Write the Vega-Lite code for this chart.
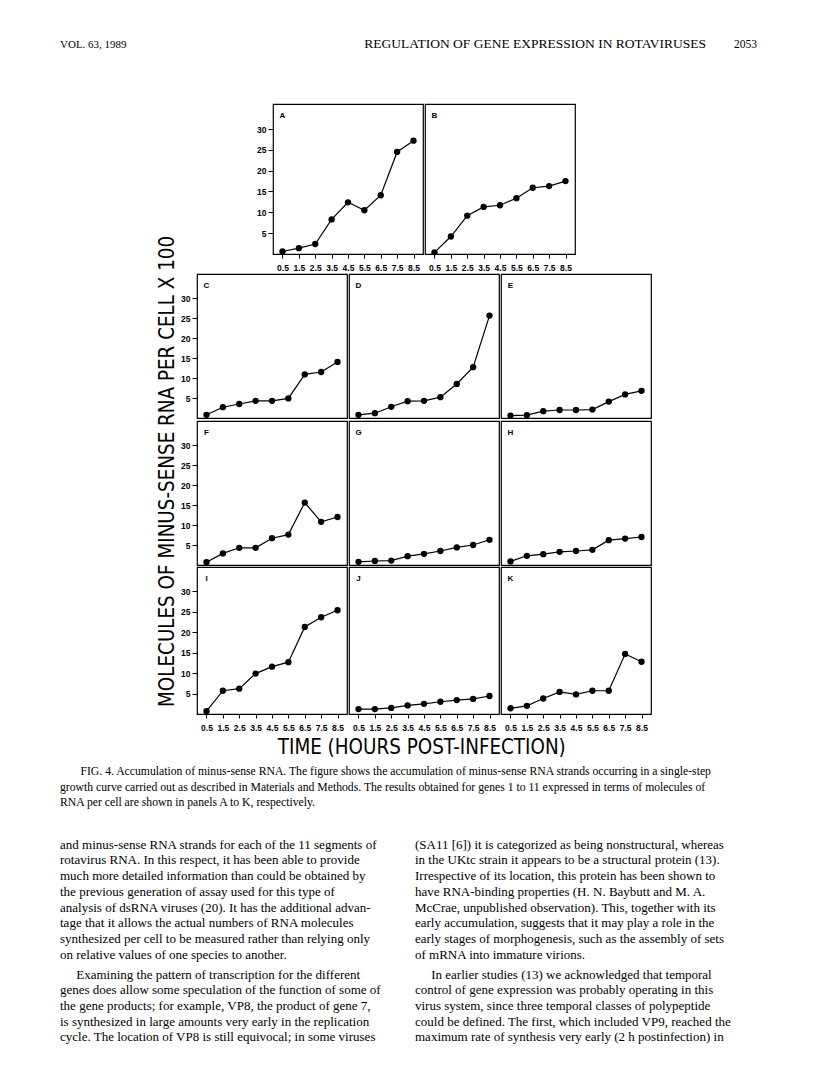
{
  "$schema": "https://vega.github.io/schema/vega-lite/v6.json",
  "background": "white",
  "padding": {"left": 60, "top": 36, "right": 0, "bottom": 0},
  "config": {
    "view": {"stroke": "black", "strokeWidth": 1.2},
    "axis": {"domain": false, "grid": false, "tickColor": "black", "tickWidth": 1, "labelColor": "black", "labelFont": "Liberation Sans", "labelFontSize": 8.5, "labelFontWeight": "bold", "labelOverlap": false, "labelFlush": false},
    "axisX": {"tickSize": 4, "labelPadding": 5},
    "axisY": {"tickSize": 5, "labelPadding": 2},
    "title": {"color": "black", "fontWeight": "normal", "offset": 0, "anchor": "start", "font": "Liberation Serif", "subtitleColor": "black", "subtitleFont": "Liberation Serif"},
    "concat": {"spacing": 0}
  },
  "datasets": {
    "d": [
      {"p": "A", "t": 0.5, "v": 0.6}, {"p": "A", "t": 1.5, "v": 1.4}, {"p": "A", "t": 2.5, "v": 2.4}, {"p": "A", "t": 3.5, "v": 8.3}, {"p": "A", "t": 4.5, "v": 12.4}, {"p": "A", "t": 5.5, "v": 10.5}, {"p": "A", "t": 6.5, "v": 14.1}, {"p": "A", "t": 7.5, "v": 24.5}, {"p": "A", "t": 8.5, "v": 27.2},
      {"p": "B", "t": 0.5, "v": 0.4}, {"p": "B", "t": 1.5, "v": 4.2}, {"p": "B", "t": 2.5, "v": 9.2}, {"p": "B", "t": 3.5, "v": 11.3}, {"p": "B", "t": 4.5, "v": 11.7}, {"p": "B", "t": 5.5, "v": 13.4}, {"p": "B", "t": 6.5, "v": 15.9}, {"p": "B", "t": 7.5, "v": 16.3}, {"p": "B", "t": 8.5, "v": 17.5},
      {"p": "C", "t": 0.5, "v": 0.8}, {"p": "C", "t": 1.5, "v": 2.7}, {"p": "C", "t": 2.5, "v": 3.5}, {"p": "C", "t": 3.5, "v": 4.3}, {"p": "C", "t": 4.5, "v": 4.3}, {"p": "C", "t": 5.5, "v": 4.9}, {"p": "C", "t": 6.5, "v": 10.9}, {"p": "C", "t": 7.5, "v": 11.5}, {"p": "C", "t": 8.5, "v": 14.0},
      {"p": "D", "t": 0.5, "v": 0.8}, {"p": "D", "t": 1.5, "v": 1.2}, {"p": "D", "t": 2.5, "v": 2.8}, {"p": "D", "t": 3.5, "v": 4.2}, {"p": "D", "t": 4.5, "v": 4.3}, {"p": "D", "t": 5.5, "v": 5.2}, {"p": "D", "t": 6.5, "v": 8.5}, {"p": "D", "t": 7.5, "v": 12.7}, {"p": "D", "t": 8.5, "v": 25.6},
      {"p": "E", "t": 0.5, "v": 0.6}, {"p": "E", "t": 1.5, "v": 0.7}, {"p": "E", "t": 2.5, "v": 1.7}, {"p": "E", "t": 3.5, "v": 2.0}, {"p": "E", "t": 4.5, "v": 2.0}, {"p": "E", "t": 5.5, "v": 2.1}, {"p": "E", "t": 6.5, "v": 4.1}, {"p": "E", "t": 7.5, "v": 5.9}, {"p": "E", "t": 8.5, "v": 6.8},
      {"p": "F", "t": 0.5, "v": 0.7}, {"p": "F", "t": 1.5, "v": 2.9}, {"p": "F", "t": 2.5, "v": 4.3}, {"p": "F", "t": 3.5, "v": 4.3}, {"p": "F", "t": 4.5, "v": 6.7}, {"p": "F", "t": 5.5, "v": 7.6}, {"p": "F", "t": 6.5, "v": 15.6}, {"p": "F", "t": 7.5, "v": 10.8}, {"p": "F", "t": 8.5, "v": 12.0},
      {"p": "G", "t": 0.5, "v": 0.8}, {"p": "G", "t": 1.5, "v": 1.0}, {"p": "G", "t": 2.5, "v": 1.1}, {"p": "G", "t": 3.5, "v": 2.2}, {"p": "G", "t": 4.5, "v": 2.8}, {"p": "G", "t": 5.5, "v": 3.5}, {"p": "G", "t": 6.5, "v": 4.4}, {"p": "G", "t": 7.5, "v": 5.0}, {"p": "G", "t": 8.5, "v": 6.3},
      {"p": "H", "t": 0.5, "v": 0.9}, {"p": "H", "t": 1.5, "v": 2.3}, {"p": "H", "t": 2.5, "v": 2.7}, {"p": "H", "t": 3.5, "v": 3.3}, {"p": "H", "t": 4.5, "v": 3.5}, {"p": "H", "t": 5.5, "v": 3.8}, {"p": "H", "t": 6.5, "v": 6.2}, {"p": "H", "t": 7.5, "v": 6.6}, {"p": "H", "t": 8.5, "v": 7.0},
      {"p": "I", "t": 0.5, "v": 0.7}, {"p": "I", "t": 1.5, "v": 5.7}, {"p": "I", "t": 2.5, "v": 6.2}, {"p": "I", "t": 3.5, "v": 9.9}, {"p": "I", "t": 4.5, "v": 11.6}, {"p": "I", "t": 5.5, "v": 12.7}, {"p": "I", "t": 6.5, "v": 21.3}, {"p": "I", "t": 7.5, "v": 23.7}, {"p": "I", "t": 8.5, "v": 25.4},
      {"p": "J", "t": 0.5, "v": 1.2}, {"p": "J", "t": 1.5, "v": 1.2}, {"p": "J", "t": 2.5, "v": 1.5}, {"p": "J", "t": 3.5, "v": 2.1}, {"p": "J", "t": 4.5, "v": 2.5}, {"p": "J", "t": 5.5, "v": 3.0}, {"p": "J", "t": 6.5, "v": 3.4}, {"p": "J", "t": 7.5, "v": 3.7}, {"p": "J", "t": 8.5, "v": 4.4},
      {"p": "K", "t": 0.5, "v": 1.4}, {"p": "K", "t": 1.5, "v": 2.0}, {"p": "K", "t": 2.5, "v": 3.8}, {"p": "K", "t": 3.5, "v": 5.4}, {"p": "K", "t": 4.5, "v": 4.8}, {"p": "K", "t": 5.5, "v": 5.7}, {"p": "K", "t": 6.5, "v": 5.7}, {"p": "K", "t": 7.5, "v": 14.7}, {"p": "K", "t": 8.5, "v": 12.8}
    ]
  },
  "vconcat": [
    {
      "hconcat": [
        {"width": 290, "height": 44, "data": {"values": [{}]}, "mark": "text", "encoding": {"text": {"value": ""}}, "view": {"stroke": null},
         "title": {"text": "VOL. 63, 1989", "fontSize": 11, "anchor": "start"}},
        {"width": 356, "height": 44, "data": {"values": [{}]}, "mark": "text", "encoding": {"text": {"value": ""}}, "view": {"stroke": null},
         "title": {"text": "REGULATION OF GENE EXPRESSION IN ROTAVIRUSES", "fontSize": 13.5, "anchor": "end"}},
        {"width": 51, "height": 44, "data": {"values": [{}]}, "mark": "text", "encoding": {"text": {"value": ""}}, "view": {"stroke": null},
         "title": {"text": "2053", "fontSize": 11.5, "anchor": "end"}}
      ]
    },
    {
      "hconcat": [
        {"width": 97, "height": 1, "data": {"values": [{}]}, "mark": "text", "encoding": {"text": {"value": ""}}, "view": {"stroke": null}},
        {"width": 1, "height": 603, "data": {"values": [{}]}, "mark": "text", "encoding": {"text": {"value": ""}}, "view": {"stroke": null},
         "title": {"text": "MOLECULES OF MINUS-SENSE RNA PER CELL X 100", "orient": "left", "anchor": "start", "font": "'Liberation Sans Narrow', 'DejaVu Sans Condensed', 'Liberation Sans'", "fontSize": 20.4, "offset": 0}},
        {
          "vconcat": [
            {
              "hconcat": [
                {"width": 58, "height": 1, "data": {"values": [{}]}, "mark": "text", "encoding": {"text": {"value": ""}}, "view": {"stroke": null}},
                {"width": 150, "height": 150, "data": {"name": "d"}, "transform": [{"filter": "datum.p === 'A'"}],
                 "encoding": {"x": {"field": "t", "type": "quantitative", "title": null, "scale": {"domain": [-0.08, 9.08], "nice": false, "zero": false}, "axis": {"values": [0.5, 1.5, 2.5, 3.5, 4.5, 5.5, 6.5, 7.5, 8.5], "format": ".1f", "minExtent": 18}},
                              "y": {"field": "v", "type": "quantitative", "title": null, "scale": {"domain": [0, 36], "nice": false, "zero": false}, "axis": {"values": [5, 10, 15, 20, 25, 30]}}},
                 "layer": [
                   {"mark": {"type": "line", "color": "black", "strokeWidth": 1.2}},
                   {"mark": {"type": "point", "filled": true, "color": "black", "size": 40, "opacity": 1}},
                   {"transform": [{"filter": "datum.t === 0.5"}], "mark": {"type": "text", "font": "Liberation Sans", "fontSize": 8, "fontWeight": "bold", "color": "black"}, "encoding": {"x": {"datum": 0.5}, "y": {"datum": 33.2}, "text": {"field": "p"}}}
                 ]},
                {"width": 150, "height": 150, "data": {"name": "d"}, "transform": [{"filter": "datum.p === 'B'"}],
                 "encoding": {"x": {"field": "t", "type": "quantitative", "title": null, "scale": {"domain": [-0.08, 9.08], "nice": false, "zero": false}, "axis": {"values": [0.5, 1.5, 2.5, 3.5, 4.5, 5.5, 6.5, 7.5, 8.5], "format": ".1f", "minExtent": 18}},
                              "y": {"field": "v", "type": "quantitative", "title": null, "scale": {"domain": [0, 36], "nice": false, "zero": false}, "axis": null}},
                 "layer": [
                   {"mark": {"type": "line", "color": "black", "strokeWidth": 1.2}},
                   {"mark": {"type": "point", "filled": true, "color": "black", "size": 40, "opacity": 1}},
                   {"transform": [{"filter": "datum.t === 0.5"}], "mark": {"type": "text", "font": "Liberation Sans", "fontSize": 8, "fontWeight": "bold", "color": "black"}, "encoding": {"x": {"datum": 0.5}, "y": {"datum": 33.2}, "text": {"field": "p"}}}
                 ]}
              ]
            },
            {
              "hconcat": [
                {"width": 150, "height": 144, "data": {"name": "d"}, "transform": [{"filter": "datum.p === 'C'"}],
                 "encoding": {"x": {"field": "t", "type": "quantitative", "title": null, "scale": {"domain": [-0.08, 9.08], "nice": false, "zero": false}, "axis": null},
                              "y": {"field": "v", "type": "quantitative", "title": null, "scale": {"domain": [0, 36], "nice": false, "zero": false}, "axis": {"values": [5, 10, 15, 20, 25, 30]}}},
                 "layer": [
                   {"mark": {"type": "line", "color": "black", "strokeWidth": 1.2}},
                   {"mark": {"type": "point", "filled": true, "color": "black", "size": 40, "opacity": 1}},
                   {"transform": [{"filter": "datum.t === 0.5"}], "mark": {"type": "text", "font": "Liberation Sans", "fontSize": 8, "fontWeight": "bold", "color": "black"}, "encoding": {"x": {"datum": 0.5}, "y": {"datum": 33}, "text": {"field": "p"}}}
                 ]},
                {"width": 150, "height": 144, "data": {"name": "d"}, "transform": [{"filter": "datum.p === 'D'"}],
                 "encoding": {"x": {"field": "t", "type": "quantitative", "title": null, "scale": {"domain": [-0.08, 9.08], "nice": false, "zero": false}, "axis": null},
                              "y": {"field": "v", "type": "quantitative", "title": null, "scale": {"domain": [0, 36], "nice": false, "zero": false}, "axis": null}},
                 "layer": [
                   {"mark": {"type": "line", "color": "black", "strokeWidth": 1.2}},
                   {"mark": {"type": "point", "filled": true, "color": "black", "size": 40, "opacity": 1}},
                   {"transform": [{"filter": "datum.t === 0.5"}], "mark": {"type": "text", "font": "Liberation Sans", "fontSize": 8, "fontWeight": "bold", "color": "black"}, "encoding": {"x": {"datum": 0.5}, "y": {"datum": 33}, "text": {"field": "p"}}}
                 ]},
                {"width": 150, "height": 144, "data": {"name": "d"}, "transform": [{"filter": "datum.p === 'E'"}],
                 "encoding": {"x": {"field": "t", "type": "quantitative", "title": null, "scale": {"domain": [-0.08, 9.08], "nice": false, "zero": false}, "axis": null},
                              "y": {"field": "v", "type": "quantitative", "title": null, "scale": {"domain": [0, 36], "nice": false, "zero": false}, "axis": null}},
                 "layer": [
                   {"mark": {"type": "line", "color": "black", "strokeWidth": 1.2}},
                   {"mark": {"type": "point", "filled": true, "color": "black", "size": 40, "opacity": 1}},
                   {"transform": [{"filter": "datum.t === 0.5"}], "mark": {"type": "text", "font": "Liberation Sans", "fontSize": 8, "fontWeight": "bold", "color": "black"}, "encoding": {"x": {"datum": 0.5}, "y": {"datum": 33}, "text": {"field": "p"}}}
                 ]}
              ]
            },
            {
              "hconcat": [
                {"width": 150, "height": 144, "data": {"name": "d"}, "transform": [{"filter": "datum.p === 'F'"}],
                 "encoding": {"x": {"field": "t", "type": "quantitative", "title": null, "scale": {"domain": [-0.08, 9.08], "nice": false, "zero": false}, "axis": null},
                              "y": {"field": "v", "type": "quantitative", "title": null, "scale": {"domain": [0, 36], "nice": false, "zero": false}, "axis": {"values": [5, 10, 15, 20, 25, 30]}}},
                 "layer": [
                   {"mark": {"type": "line", "color": "black", "strokeWidth": 1.2}},
                   {"mark": {"type": "point", "filled": true, "color": "black", "size": 40, "opacity": 1}},
                   {"transform": [{"filter": "datum.t === 0.5"}], "mark": {"type": "text", "font": "Liberation Sans", "fontSize": 8, "fontWeight": "bold", "color": "black"}, "encoding": {"x": {"datum": 0.5}, "y": {"datum": 33}, "text": {"field": "p"}}}
                 ]},
                {"width": 150, "height": 144, "data": {"name": "d"}, "transform": [{"filter": "datum.p === 'G'"}],
                 "encoding": {"x": {"field": "t", "type": "quantitative", "title": null, "scale": {"domain": [-0.08, 9.08], "nice": false, "zero": false}, "axis": null},
                              "y": {"field": "v", "type": "quantitative", "title": null, "scale": {"domain": [0, 36], "nice": false, "zero": false}, "axis": null}},
                 "layer": [
                   {"mark": {"type": "line", "color": "black", "strokeWidth": 1.2}},
                   {"mark": {"type": "point", "filled": true, "color": "black", "size": 40, "opacity": 1}},
                   {"transform": [{"filter": "datum.t === 0.5"}], "mark": {"type": "text", "font": "Liberation Sans", "fontSize": 8, "fontWeight": "bold", "color": "black"}, "encoding": {"x": {"datum": 0.5}, "y": {"datum": 33}, "text": {"field": "p"}}}
                 ]},
                {"width": 150, "height": 144, "data": {"name": "d"}, "transform": [{"filter": "datum.p === 'H'"}],
                 "encoding": {"x": {"field": "t", "type": "quantitative", "title": null, "scale": {"domain": [-0.08, 9.08], "nice": false, "zero": false}, "axis": null},
                              "y": {"field": "v", "type": "quantitative", "title": null, "scale": {"domain": [0, 36], "nice": false, "zero": false}, "axis": null}},
                 "layer": [
                   {"mark": {"type": "line", "color": "black", "strokeWidth": 1.2}},
                   {"mark": {"type": "point", "filled": true, "color": "black", "size": 40, "opacity": 1}},
                   {"transform": [{"filter": "datum.t === 0.5"}], "mark": {"type": "text", "font": "Liberation Sans", "fontSize": 8, "fontWeight": "bold", "color": "black"}, "encoding": {"x": {"datum": 0.5}, "y": {"datum": 33}, "text": {"field": "p"}}}
                 ]}
              ]
            },
            {
              "title": {"text": "TIME (HOURS POST-INFECTION)", "orient": "bottom", "anchor": "middle", "font": "'Liberation Sans Narrow', 'DejaVu Sans Condensed', 'Liberation Sans'", "fontSize": 20.4, "offset": 6, "dx": 6},
              "hconcat": [
                {"width": 150, "height": 147, "data": {"name": "d"}, "transform": [{"filter": "datum.p === 'I'"}],
                 "encoding": {"x": {"field": "t", "type": "quantitative", "title": null, "scale": {"domain": [-0.08, 9.08], "nice": false, "zero": false}, "axis": {"values": [0.5, 1.5, 2.5, 3.5, 4.5, 5.5, 6.5, 7.5, 8.5], "format": ".1f"}},
                              "y": {"field": "v", "type": "quantitative", "title": null, "scale": {"domain": [0, 36], "nice": false, "zero": false}, "axis": {"values": [5, 10, 15, 20, 25, 30]}}},
                 "layer": [
                   {"mark": {"type": "line", "color": "black", "strokeWidth": 1.2}},
                   {"mark": {"type": "point", "filled": true, "color": "black", "size": 40, "opacity": 1}},
                   {"transform": [{"filter": "datum.t === 0.5"}], "mark": {"type": "text", "font": "Liberation Sans", "fontSize": 8, "fontWeight": "bold", "color": "black"}, "encoding": {"x": {"datum": 0.5}, "y": {"datum": 33}, "text": {"field": "p"}}}
                 ]},
                {"width": 150, "height": 147, "data": {"name": "d"}, "transform": [{"filter": "datum.p === 'J'"}],
                 "encoding": {"x": {"field": "t", "type": "quantitative", "title": null, "scale": {"domain": [-0.08, 9.08], "nice": false, "zero": false}, "axis": {"values": [0.5, 1.5, 2.5, 3.5, 4.5, 5.5, 6.5, 7.5, 8.5], "format": ".1f"}},
                              "y": {"field": "v", "type": "quantitative", "title": null, "scale": {"domain": [0, 36], "nice": false, "zero": false}, "axis": null}},
                 "layer": [
                   {"mark": {"type": "line", "color": "black", "strokeWidth": 1.2}},
                   {"mark": {"type": "point", "filled": true, "color": "black", "size": 40, "opacity": 1}},
                   {"transform": [{"filter": "datum.t === 0.5"}], "mark": {"type": "text", "font": "Liberation Sans", "fontSize": 8, "fontWeight": "bold", "color": "black"}, "encoding": {"x": {"datum": 0.5}, "y": {"datum": 33}, "text": {"field": "p"}}}
                 ]},
                {"width": 150, "height": 147, "data": {"name": "d"}, "transform": [{"filter": "datum.p === 'K'"}],
                 "encoding": {"x": {"field": "t", "type": "quantitative", "title": null, "scale": {"domain": [-0.08, 9.08], "nice": false, "zero": false}, "axis": {"values": [0.5, 1.5, 2.5, 3.5, 4.5, 5.5, 6.5, 7.5, 8.5], "format": ".1f"}},
                              "y": {"field": "v", "type": "quantitative", "title": null, "scale": {"domain": [0, 36], "nice": false, "zero": false}, "axis": null}},
                 "layer": [
                   {"mark": {"type": "line", "color": "black", "strokeWidth": 1.2}},
                   {"mark": {"type": "point", "filled": true, "color": "black", "size": 40, "opacity": 1}},
                   {"transform": [{"filter": "datum.t === 0.5"}], "mark": {"type": "text", "font": "Liberation Sans", "fontSize": 8, "fontWeight": "bold", "color": "black"}, "encoding": {"x": {"datum": 0.5}, "y": {"datum": 33}, "text": {"field": "p"}}}
                 ]}
              ]
            }
          ]
        }
      ]
    },
    {"width": 10, "height": 7, "data": {"values": [{}]}, "mark": {"type": "text", "fontSize": 1}, "encoding": {"text": {"value": ""}}, "view": {"stroke": null}},
    {"width": 696, "height": 25, "data": {"values": [{}]}, "mark": "text", "encoding": {"text": {"value": ""}}, "view": {"stroke": null},
     "title": {"text": ["\u200b\u00a0\u00a0\u00a0\u00a0\u00a0\u00a0\u00a0FIG. 4. Accumulation of minus-sense RNA. The figure shows the accumulation of minus-sense RNA strands occurring in a single-step", "growth curve carried out as described in Materials and Methods. The results obtained for genes 1 to 11 expressed in terms of molecules of", "RNA per cell are shown in panels A to K, respectively."], "fontSize": 11.7, "lineHeight": 15.5, "anchor": "start"}},
    {
      "spacing": 20,
      "hconcat": [
        {"width": 335, "height": 1, "data": {"values": [{}]}, "mark": "text", "encoding": {"text": {"value": ""}}, "view": {"stroke": null},
         "title": {"text": ["and minus-sense RNA strands for each of the 11 segments of", "rotavirus RNA. In this respect, it has been able to provide", "much more detailed information than could be obtained by", "the previous generation of assay used for this type of", "analysis of dsRNA viruses (20). It has the additional advan-", "tage that it allows the actual numbers of RNA molecules", "synthesized per cell to be measured rather than relying only", "on relative values of one species to another."],
                   "subtitle": ["\u200b\u00a0\u00a0\u00a0\u00a0\u00a0Examining the pattern of transcription for the different", "genes does allow some speculation of the function of some of", "the gene products; for example, VP8, the product of gene 7,", "is synthesized in large amounts very early in the replication", "cycle. The location of VP8 is still equivocal; in some viruses"],
                   "fontSize": 13, "lineHeight": 15.7, "subtitleFontSize": 13, "subtitleLineHeight": 15.7, "subtitlePadding": 7, "anchor": "start"}},
        {"width": 345, "height": 1, "data": {"values": [{}]}, "mark": "text", "encoding": {"text": {"value": ""}}, "view": {"stroke": null},
         "title": {"text": ["(SA11 [6]) it is categorized as being nonstructural, whereas", "in the UKtc strain it appears to be a structural protein (13).", "Irrespective of its location, this protein has been shown to", "have RNA-binding properties (H. N. Baybutt and M. A.", "McCrae, unpublished observation). This, together with its", "early accumulation, suggests that it may play a role in the", "early stages of morphogenesis, such as the assembly of sets", "of mRNA into immature virions."],
                   "subtitle": ["\u200b\u00a0\u00a0\u00a0\u00a0\u00a0In earlier studies (13) we acknowledged that temporal", "control of gene expression was probably operating in this", "virus system, since three temporal classes of polypeptide", "could be defined. The first, which included VP9, reached the", "maximum rate of synthesis very early (2 h postinfection) in"],
                   "fontSize": 13, "lineHeight": 15.7, "subtitleFontSize": 13, "subtitleLineHeight": 15.7, "subtitlePadding": 7, "anchor": "start"}}
      ]
    }
  ]
}
